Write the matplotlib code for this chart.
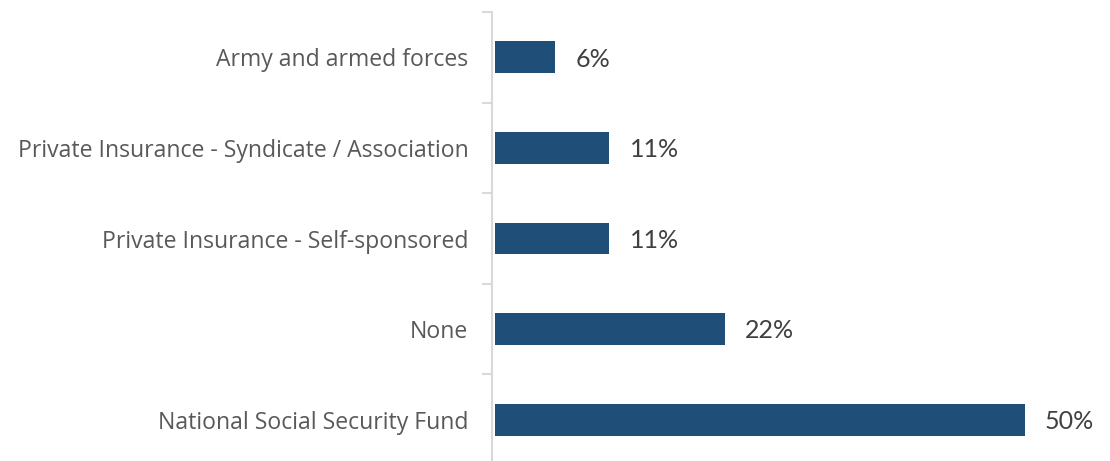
import matplotlib
matplotlib.use('Agg')
import matplotlib.pyplot as plt

categories = ['Army and armed forces',
              'Private Insurance - Syndicate / Association',
              'Private Insurance - Self-sponsored',
              'None',
              'National Social Security Fund']
values = [5.7, 10.8, 10.8, 21.7, 50.0]
labels = ['6%', '11%', '11%', '22%', '50%']

plt.rcParams['font.family'] = ['Lato', 'DejaVu Sans']

fig = plt.figure(figsize=(11.1, 4.61), dpi=100)
W, H = 1110, 461
ax = fig.add_axes([492 / W, 1 - 465 / H, 608 / W, 453 / H])

pos = list(range(len(categories)))
ax.barh(pos, values, height=0.35, color='#1f4e79', left=0)

for p, v, t in zip(pos, values, labels):
    ax.text(v + 1.9, p + 0.02, t, va='center', ha='left', fontsize=18, color='#404040')

ax.set_ylim(len(categories) - 0.5, -0.5)
ax.set_xlim(-0.28, 57.1)

# boundaries as major ticks, names as minor ticks
ax.set_yticks([i - 0.5 for i in range(len(categories) + 1)])
ax.set_yticklabels([])
ax.set_yticks(pos, minor=True)
ax.set_yticklabels(categories, minor=True, fontfamily=['Open Sans', 'DejaVu Sans'])
ax.tick_params(axis='y', which='major', length=7, width=1.5, color='#d9d9d9')
ax.tick_params(axis='y', which='minor', length=0, pad=17, labelsize=16.6, labelcolor='#595959')
ax.set_xticks([])

for s in ['top', 'right', 'bottom']:
    ax.spines[s].set_visible(False)
ax.spines['left'].set_color('#d9d9d9')
ax.spines['left'].set_linewidth(1.5)

fig.savefig('out.png', dpi=100)
